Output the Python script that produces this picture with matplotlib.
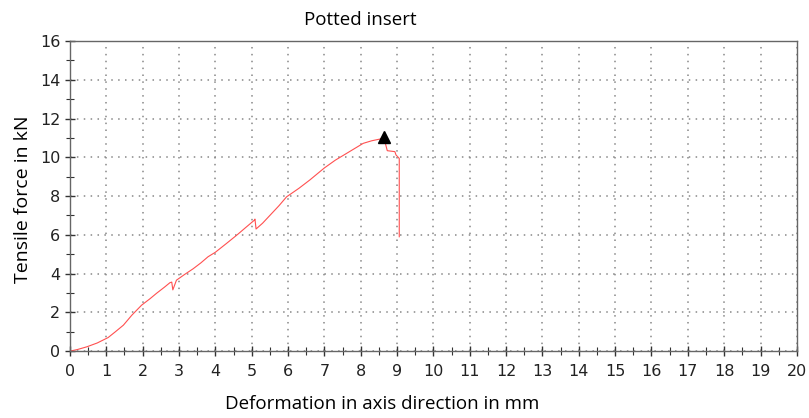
import matplotlib
matplotlib.use("Agg")
import matplotlib.pyplot as plt
from matplotlib.ticker import MultipleLocator

# === DATA ===
deform_mm = [0.0, 0.2, 0.46, 0.75, 1.05, 1.25, 1.47, 1.7, 1.97, 2.2, 2.38, 2.6, 2.75, 2.8,
             2.83, 2.93, 3.15, 3.39, 3.6, 3.8, 4.0, 4.31, 4.6, 4.85, 5.07, 5.09,
             5.12, 5.3, 5.5, 5.75, 5.96, 6.3, 6.6, 7.0, 7.3, 7.61, 8.07, 8.3, 8.53,
             8.63, 8.69, 8.73, 8.94, 8.97, 9.06, 9.06]
force_kn = [0.0, 0.08, 0.22, 0.42, 0.70, 1.0, 1.34, 1.85, 2.37, 2.7, 2.98, 3.3, 3.53, 3.56,
            3.16, 3.66, 3.95, 4.25, 4.55, 4.87, 5.1, 5.56, 6.0, 6.4, 6.75, 6.81,
            6.3, 6.6, 7.0, 7.5, 7.96, 8.4, 8.83, 9.45, 9.85, 10.2, 10.72, 10.85, 10.94,
            11.06, 10.63, 10.34, 10.29, 10.12, 9.94, 5.9]
peak_x = [8.63]
peak_y = [11.06]

# === FIGURE ===
fig = plt.figure(figsize=(8.09, 4.18), dpi=100)
ax = fig.add_axes([0.0865, 0.160, 0.8985, 0.742])

ax.plot(deform_mm, force_kn, color="#ff5050", lw=0.8)
ax.plot(peak_x, peak_y, marker="^", color="black", markersize=8, linestyle="none")

ax.set_xlim(0, 20)
ax.set_ylim(0, 16)
ax.xaxis.set_major_locator(MultipleLocator(1))
ax.xaxis.set_minor_locator(MultipleLocator(0.5))
ax.yaxis.set_major_locator(MultipleLocator(2))
ax.yaxis.set_minor_locator(MultipleLocator(1))

ax.grid(True, which="major", color="#888888", linestyle=(0, (1, 3.5)), lw=1.1)
ax.tick_params(which="both", direction="inout", color="#333333",
               labelsize=11.5, labelcolor="#222222")
ax.tick_params(which="major", length=7, width=1)
ax.tick_params(which="minor", length=6, width=0.8)
ax.tick_params(axis="x", pad=6)
for s in ax.spines.values():
    s.set_color("#666666")
    s.set_linewidth(1.0)

lab_font = ["Open Sans", "DejaVu Sans"]
fig.text(0.445, 0.952, "Potted insert", ha="center", va="center", fontsize=13.5, family=lab_font)
ax.set_xlabel("Deformation in axis direction in mm", fontsize=13.5, family=lab_font)
ax.xaxis.set_label_coords(0.43, -0.14)
ax.set_ylabel("Tensile force in kN", fontsize=14, family=lab_font)
ax.yaxis.set_label_coords(-0.052, 0.49)

fig.savefig("out.png", dpi=100)
